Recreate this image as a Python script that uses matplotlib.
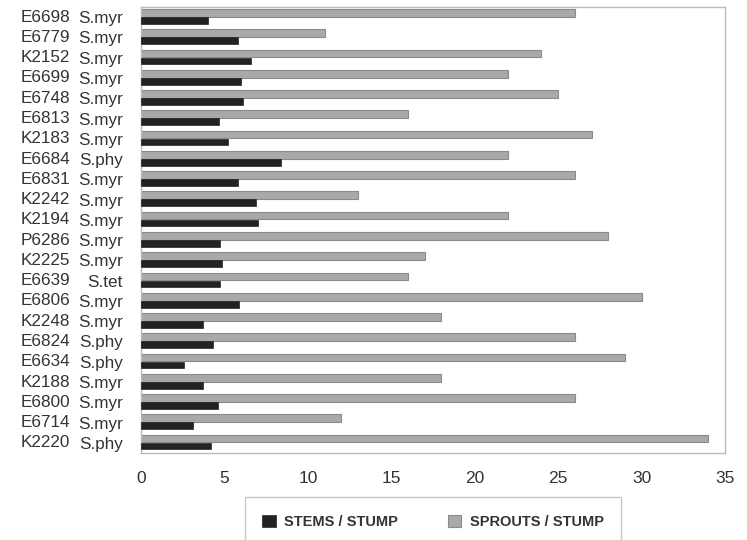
import matplotlib
matplotlib.use("Agg")
import matplotlib.pyplot as plt
import numpy as np

codes = ["E6698", "E6779", "K2152", "E6699", "E6748", "E6813", "K2183", "E6684",
         "E6831", "K2242", "K2194", "P6286", "K2225", "E6639", "E6806", "K2248",
         "E6824", "E6634", "K2188", "E6800", "E6714", "K2220"]
species = ["S.myr", "S.myr", "S.myr", "S.myr", "S.myr", "S.myr", "S.myr", "S.phy",
           "S.myr", "S.myr", "S.myr", "S.myr", "S.myr", "S.tet", "S.myr", "S.myr",
           "S.phy", "S.phy", "S.myr", "S.myr", "S.myr", "S.phy"]
stems = [4.0, 5.8, 6.6, 6.0, 6.1, 4.65, 5.2, 8.4,
         5.8, 6.9, 7.0, 4.75, 4.85, 4.75, 5.9, 3.7,
         4.3, 2.6, 3.7, 4.6, 3.1, 4.2]
sprouts = [26, 11, 24, 22, 25, 16, 27, 22,
           26, 13, 22, 28, 17, 16, 30, 18,
           26, 29, 18, 26, 12, 34]
xticks = [0, 5, 10, 15, 20, 25, 30, 35]

plt.rcParams['font.family'] = ['Liberation Sans', 'DejaVu Sans']

fig = plt.figure(figsize=(7.47, 5.40), dpi=100)
ax = fig.add_axes([141/747, 1-453/540, (725-141)/747, (453-7)/540])

y = np.arange(len(codes))
ax.barh(y - 0.21, sprouts, height=0.38, color='#a9a9a9', edgecolor='#8a8a8a',
        linewidth=0.8, label='SPROUTS / STUMP', zorder=2)
ax.barh(y + 0.16, stems, height=0.33, color='#222222', edgecolor='#222222',
        linewidth=0.5, label='STEMS / STUMP', zorder=3)

ax.set_xlim(0, 35)
ax.set_ylim(len(codes) - 0.5, -0.5)
ax.set_xticks(xticks)
ax.set_xticklabels([str(t) for t in xticks], fontsize=12.5, color='#333333')
ax.set_yticks(y)
ax.set_yticklabels(species, fontsize=12.3, color='#333333')
ax.tick_params(axis='y', length=0, pad=13)
ax.tick_params(axis='x', length=0, pad=13)

trans = matplotlib.transforms.blended_transform_factory(fig.transFigure, ax.transData)
for yi, c in zip(y, codes):
    ax.text(21/747, yi, c, transform=trans, ha='left', va='center',
            fontsize=12.3, color='#333333')

for s in ax.spines.values():
    s.set_color('#bbbbbb')
    s.set_linewidth(1.0)

handles, labels = ax.get_legend_handles_labels()
leg = ax.legend(handles[::-1], labels[::-1], loc='upper center',
                bbox_to_anchor=(0.5, -0.099), ncol=2, frameon=True,
                fancybox=False, edgecolor='#bbbbbb',
                prop={'weight': 'bold', 'size': 10.5},
                handlelength=0.9, handleheight=0.9, columnspacing=3.4,
                borderpad=1.2, borderaxespad=0, handletextpad=0.6)
for t in leg.get_texts():
    t.set_color('#333333')

fig.savefig('out.png', dpi=100)
